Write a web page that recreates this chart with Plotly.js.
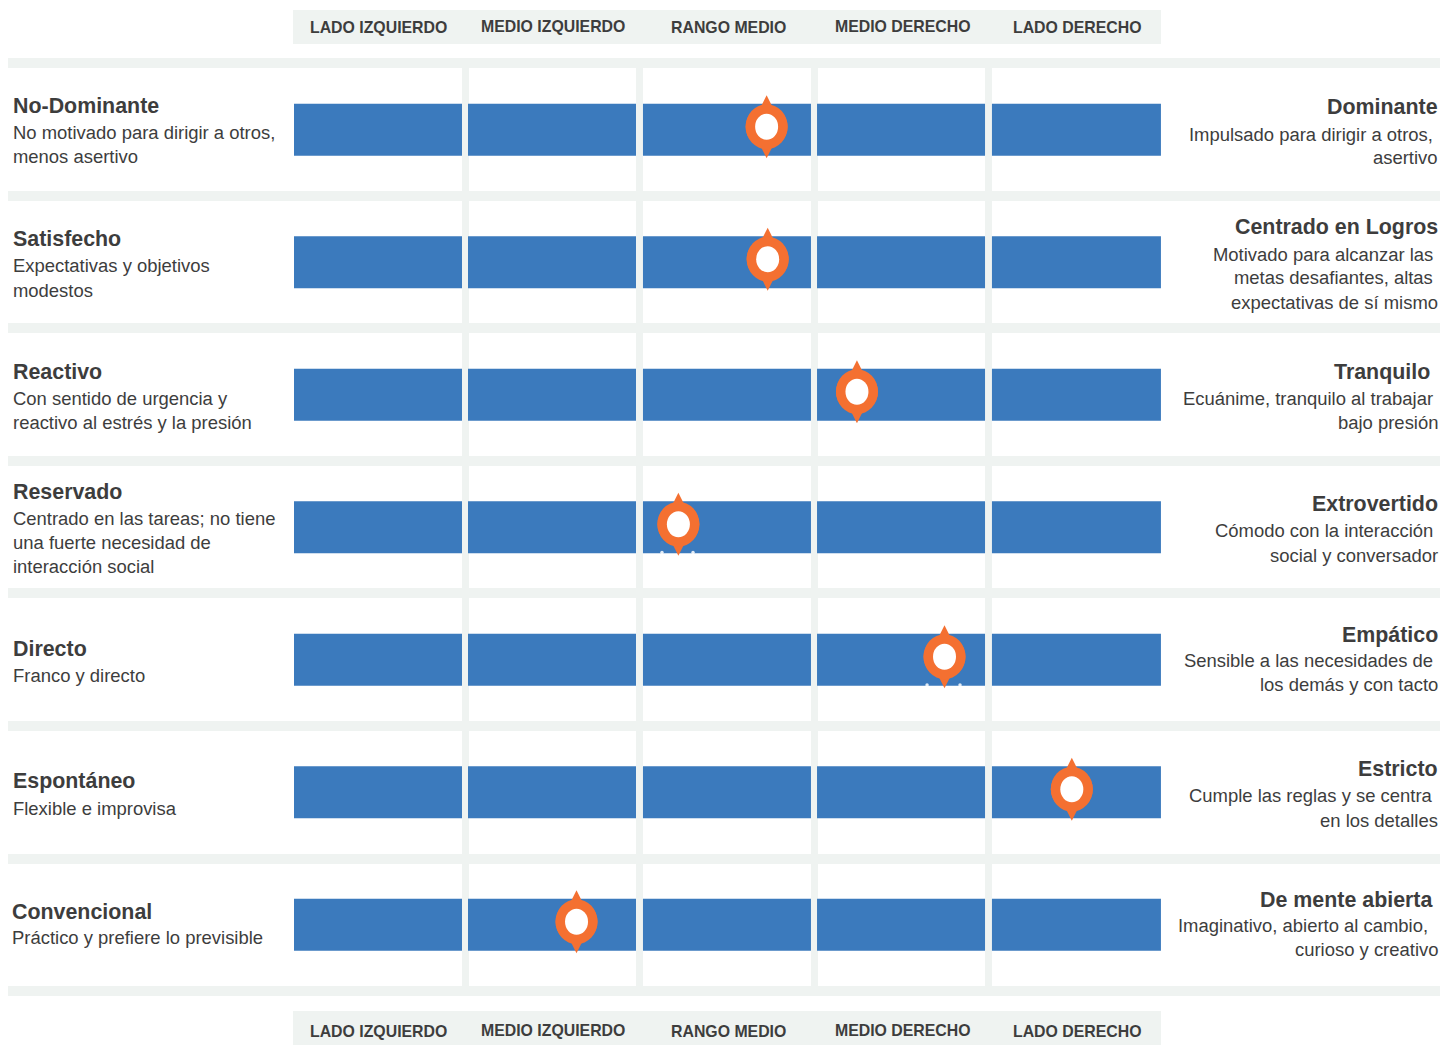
<!DOCTYPE html>
<html>
<head>
<meta charset="utf-8">
<script src="https://cdn.plot.ly/plotly-3.0.1.min.js"></script>
<style>html,body{margin:0;padding:0;background:#fff}#chart{width:1440px;height:1045px}</style>
</head>
<body>
<div id="chart"></div>
<script>
// ---- data ----
var rowIndex = [0, 1, 2, 3, 4, 5, 6];
var zoneLabels = ["LADO IZQUIERDO", "MEDIO IZQUIERDO", "RANGO MEDIO", "MEDIO DERECHO", "LADO DERECHO"];
var zoneStarts = [0, 0.9977, 2.001, 2.999, 4.002];
var zoneWidths = [0.9633, 0.9633, 0.9633, 0.9633, 0.969];
var scores = [2.71, 2.716, 3.228, 2.204, 3.73, 4.46, 1.62];
var notchX = [2.11, 2.288, 3.63, 3.819];
var notchRow = [3, 3, 4, 4];
var leftTexts = [
  ["No-Dominante", "No motivado para dirigir a otros,", "menos asertivo"],
  ["Satisfecho", "Expectativas y objetivos", "modestos"],
  ["Reactivo", "Con sentido de urgencia y", "reactivo al estrés y la presión"],
  ["Reservado", "Centrado en las tareas; no tiene", "una fuerte necesidad de", "interacción social"],
  ["Directo", "Franco y directo"],
  ["Espontáneo", "Flexible e improvisa"],
  ["Convencional", "Práctico y prefiere lo previsible"]
];
var rightTexts = [
  ["Dominante", "Impulsado para dirigir a otros,", "asertivo"],
  ["Centrado en Logros", "Motivado para alcanzar las", "metas desafiantes, altas", "expectativas de sí mismo"],
  ["Tranquilo", "Ecuánime, tranquilo al trabajar", "bajo presión"],
  ["Extrovertido", "Cómodo con la interacción", "social y conversador"],
  ["Empático", "Sensible a las necesidades de", "los demás y con tacto"],
  ["Estricto", "Cumple las reglas y se centra", "en los detalles"],
  ["De mente abierta", "Imaginativo, abierto al cambio,", "curioso y creativo"]
];

// ---- layout positions (pixels) ----
var W = 1440, H = 1045;
var leftY = [[106,133,157],[239,265,290],[372,398,422],[492,518,542,566],[649,675],[781,808],[912,937]];
var leftX = [12.5,13,13,13,13,13,12.2];
var rightY = [[107,134,158],[227,254,277,302],[372,398,422],[504,530,555],[635,660,684],[769,795,820],[900,925,949]];
var rightX = [[1438,1432.5,1438],[1438,1432.5,1432.5,1438],[1430,1432.5,1438],[1438,1432.5,1438],[1438,1432.5,1438],[1438,1432.5,1438],[1433,1427.5,1438]];
var headerX = [378.8, 553.2, 728, 903, 1077.2];
var headerTopY = [28, 27, 28, 27, 28];
var headerBottomY = [1031, 1030, 1031, 1030, 1031];
var stripeY = [58,191,323,456,588,721,854,986];
var columnGapX = [462,636,811,985];

var GREY = "#eff3f1", BLUE = "#3b7abd", ORANGE = "#f47031", TEXT = "#3d3d3d", FONT = "'Liberation Sans', Arial, sans-serif";
function px(x){return x/W;}
function py(y){return 1-y/H;}
function note(text,x,y,anchor,size,bold,color){
  return {text: bold?"<b>"+text+"</b>":text, xref:"paper", yref:"paper", x:px(x), y:py(y), xanchor:anchor, yanchor:"middle",
    showarrow:false, borderpad:0, borderwidth:0, font:{family:FONT,size:size,color:color||TEXT}};
}
var annotations = [];
leftTexts.forEach(function(lines,r){lines.forEach(function(t,i){
  annotations.push(note(t,leftX[r],leftY[r][i],"left",i===0?21.4:18.45,i===0));
});});
rightTexts.forEach(function(lines,r){lines.forEach(function(t,i){
  annotations.push(note(t,rightX[r][i],rightY[r][i],"right",i===0?21.4:18.45,i===0));
});});
zoneLabels.forEach(function(t,i){
  annotations.push(note(t,headerX[i],headerTopY[i],"center",15.85,true));
  annotations.push(note(t,headerX[i],headerBottomY[i],"center",15.85,true));
});

function rect(x0,y0,x1,y1,c){return {type:"rect",xref:"paper",yref:"paper",x0:px(x0),x1:px(x1),y0:py(y0),y1:py(y1),fillcolor:c,line:{width:0},layer:"below"};}
var shapes = [rect(293,10,1161,44,GREY), rect(293,1011,1161,1045,GREY)];
stripeY.forEach(function(y){shapes.push(rect(8,y,W,y+10,GREY));});
columnGapX.forEach(function(x){shapes.push(rect(x,68,x+7,986,GREY));});

var traces = zoneLabels.map(function(name,i){
  return {type:"bar",orientation:"h",name:name,y:rowIndex,
    x:rowIndex.map(function(){return zoneWidths[i];}),
    base:rowIndex.map(function(){return zoneStarts[i];}),
    width:52/132.5,marker:{color:BLUE,line:{width:0}},hoverinfo:"skip",showlegend:false};
});
var markerY = rowIndex.map(function(r){return r-0.0226;});
function mk(sym,size,color){
  return {type:"scatter",mode:"markers",x:scores,y:markerY,hoverinfo:"skip",showlegend:false,
    marker:{symbol:sym,size:size,color:color,line:{width:0}}};
}
traces.push({type:"scatter",mode:"markers",x:notchX,y:notchRow.map(function(r){return r+0.19;}),hoverinfo:"skip",showlegend:false,
  marker:{symbol:"circle",size:3.5,color:"#ffffff",opacity:0.85,line:{width:0}}});
traces.push(mk("diamond-tall",45,ORANGE));
traces.push(mk("circle",42,ORANGE));
traces.push(mk("circle",23,"#ffffff"));

// slightly taller ovals anchored on the same data points
function oval(i,rx,ry,c){
  return {type:"circle",xref:"x",yref:"y",xsizemode:"pixel",ysizemode:"pixel",xanchor:scores[i],yanchor:markerY[i],
    x0:-rx,x1:rx,y0:-ry,y1:ry,fillcolor:c,line:{width:0},layer:"above"};
}
scores.forEach(function(s,i){shapes.push(oval(i,21,22.5,ORANGE));shapes.push(oval(i,11.5,13,"#ffffff"));});

var layout = {
  width:W,height:H,margin:{l:0,r:0,t:0,b:0,pad:0},paper_bgcolor:"#fff",plot_bgcolor:"rgba(0,0,0,0)",
  barmode:"overlay",showlegend:false,hovermode:false,
  xaxis:{visible:false,range:[-294/174.4,(W-294)/174.4],fixedrange:true},
  yaxis:{visible:false,range:[(H-129.7)/132.5,-129.7/132.5],fixedrange:true},
  shapes:shapes,annotations:annotations
};
Plotly.newPlot("chart",traces,layout,{displayModeBar:false,staticPlot:true});
</script>
</body>
</html>
